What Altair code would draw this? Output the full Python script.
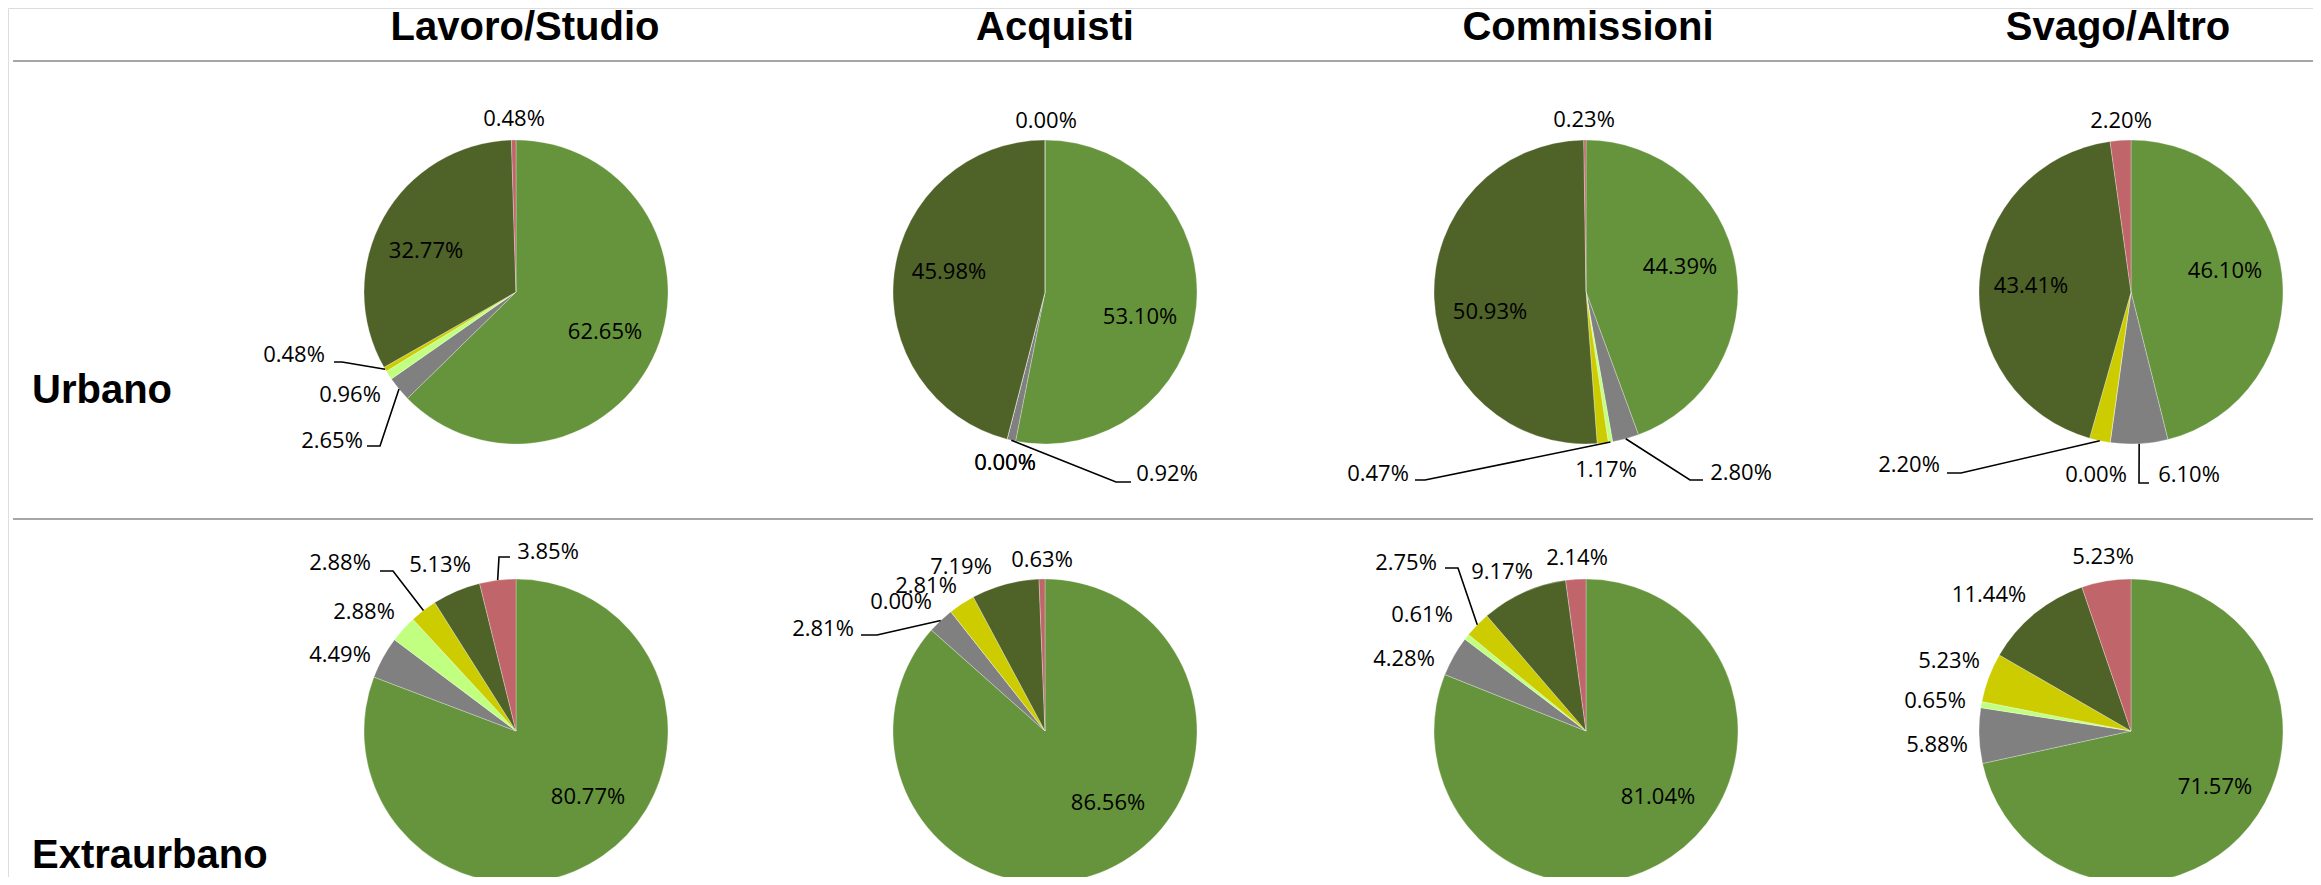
import math
import altair as alt
import pandas as pd

# ---------------- data ----------------
purposes = ["Lavoro/Studio", "Acquisti", "Commissioni", "Svago/Altro"]
zones = ["Urbano", "Extraurbano"]
modes = ["Serie 1", "Serie 2", "Serie 3", "Serie 4", "Serie 5", "Serie 6"]

urbano = [
    [62.65, 2.65, 0.96, 0.48, 32.77, 0.48],
    [53.10, 0.92, 0.00, 0.00, 45.98, 0.00],
    [44.39, 2.80, 0.47, 1.17, 50.93, 0.23],
    [46.10, 6.10, 0.00, 2.20, 43.41, 2.20],
]
extraurbano = [
    [80.77, 4.49, 2.88, 2.88, 5.13, 3.85],
    [86.56, 2.81, 0.00, 2.81, 7.19, 0.63],
    [81.04, 4.28, 0.61, 2.75, 9.17, 2.14],
    [71.57, 5.88, 0.65, 5.23, 11.44, 5.23],
]
values = {"Urbano": urbano, "Extraurbano": extraurbano}

# ---------------- layout / style ----------------
colors = ["#66943C", "#808080", "#C0FF80", "#CCCC00", "#4F6228", "#C0666A"]
W, H, M = 2321, 885, 8
col_x = [516, 1045, 1586, 2131]
row_y = {"Urbano": 292, "Extraurbano": 731}
R = 152
title_x = [525, 1055, 1588, 2118]
title_base = 40
row_label_x = 32
row_label_base = {"Urbano": 403, "Extraurbano": 868}
sep_y = [61, 519]
sep_x = (13, 2313)

label_pos = {
    "Urbano": [
        [(605, 332), (332, 441), (350, 395), (294, 355), (426, 251), (514, 119)],
        [(1140, 317), (1167, 474), (1005, 463), (1005, 463), (949, 272), (1046, 121)],
        [(1680, 267), (1741, 473), (1378, 474), (1606, 470), (1490, 312), (1584, 120)],
        [(2225, 271), (2189, 475), (2096, 475), (1909, 465), (2031, 286), (2121, 121)],
    ],
    "Extraurbano": [
        [(588, 797), (340, 655), (364, 612), (340, 563), (440, 565), (548, 552)],
        [(1108, 803), (823, 629), (901, 602), (926, 586), (961, 567), (1042, 560)],
        [(1658, 797), (1404, 659), (1422, 615), (1406, 563), (1502, 572), (1577, 558)],
        [(2215, 787), (1937, 745), (1935, 701), (1949, 661), (1989, 595), (2103, 557)],
    ],
}
# leader lines: (zone, purpose index, slice index, label-end point, elbow point)
leaders = [
    ("Urbano", 0, 3, (334, 362), (342, 362)),
    ("Urbano", 0, 1, (367, 446), (380, 446)),
    ("Urbano", 1, 1, (1131, 482), (1116, 482)),
    ("Urbano", 2, 2, (1415, 480), (1425, 480)),
    ("Urbano", 2, 1, (1703, 480), (1690, 480)),
    ("Urbano", 3, 3, (1947, 473), (1961, 473)),
    ("Urbano", 3, 1, (2149, 483), (2139, 483)),
    ("Extraurbano", 0, 3, (380, 571), (393, 571)),
    ("Extraurbano", 0, 5, (510, 557), (499, 557)),
    ("Extraurbano", 1, 1, (861, 635), (877, 635)),
    ("Extraurbano", 2, 3, (1445, 568), (1458, 568)),
]

# ---------------- tables ----------------
slice_rows, label_rows = [], []
for z in zones:
    for p, purpose in enumerate(purposes):
        for k, v in enumerate(values[z][p]):
            slice_rows.append(dict(pie=f"{z}|{purpose}", k=k, mode=modes[k], value=v,
                                   cx=col_x[p], cy=row_y[z]))
            lx, ly = label_pos[z][p][k]
            label_rows.append(dict(text=f"{v:.2f}%", lx=lx, ly=ly))
df_slices = pd.DataFrame(slice_rows)
df_labels = pd.DataFrame(label_rows)

lead_rows = []
for i, (z, p, k, a, b) in enumerate(leaders):
    vals = values[z][p]
    tot = sum(vals)
    start = sum(vals[:k]) / tot
    end = start + vals[k] / tot
    mid = (start + end) / 2 * 2 * math.pi
    ex = col_x[p] + R * math.sin(mid)
    ey = row_y[z] - R * math.cos(mid)
    for j, (px, py) in enumerate([a, b, (ex, ey)]):
        lead_rows.append(dict(id=i, o=j, px=px, py=py))
df_lead = pd.DataFrame(lead_rows)

df_titles = pd.DataFrame(dict(t=purposes, tx=title_x, ty=[title_base] * 4))
df_rows = pd.DataFrame(dict(t=zones, tx=[row_label_x] * 2, ty=[row_label_base[z] for z in zones]))
df_sep = pd.DataFrame(dict(y=sep_y, x1=[sep_x[0]] * 2, x2=[sep_x[1]] * 2))

xs = alt.Scale(domain=[M, W - M], nice=False, zero=False)
ys = alt.Scale(domain=[M, H - M], nice=False, zero=False, reverse=True)

pies = (
    alt.Chart(df_slices)
    .transform_joinaggregate(tot="sum(value)", groupby=["pie"])
    .transform_window(cum="sum(value)", groupby=["pie"], sort=[alt.SortField("k")], frame=[None, 0])
    .transform_calculate(f1="datum.cum / datum.tot", f0="(datum.cum - datum.value) / datum.tot")
    .mark_arc(radius=R, stroke="#ffffff", strokeWidth=0.4, strokeOpacity=0.7)
    .encode(
        x=alt.X("cx:Q", scale=xs, axis=None),
        y=alt.Y("cy:Q", scale=ys, axis=None),
        theta=alt.Theta("f0:Q", stack=None, scale=alt.Scale(domain=[0, 1], range=[0, 2 * math.pi])),
        theta2="f1:Q",
        color=alt.Color("mode:N", scale=alt.Scale(domain=modes, range=colors), legend=None),
        order=alt.Order("k:Q"),
    )
)

labels = alt.Chart(df_labels).mark_text(
    font="Open Sans", fontSize=22, color="#000000", align="center", baseline="middle"
).encode(x=alt.X("lx:Q", scale=xs, axis=None), y=alt.Y("ly:Q", scale=ys, axis=None), text="text:N")

lead = alt.Chart(df_lead).mark_line(color="#000000", strokeWidth=1.6).encode(
    x=alt.X("px:Q", scale=xs, axis=None),
    y=alt.Y("py:Q", scale=ys, axis=None),
    detail="id:N",
    order="o:Q",
)

titles = alt.Chart(df_titles).mark_text(
    font="Liberation Sans", fontWeight="bold", fontSize=40, color="#000000",
    align="center", baseline="alphabetic"
).encode(x=alt.X("tx:Q", scale=xs, axis=None), y=alt.Y("ty:Q", scale=ys, axis=None), text="t:N")

row_labels = alt.Chart(df_rows).mark_text(
    font="Liberation Sans", fontWeight="bold", fontSize=40, color="#000000",
    align="left", baseline="alphabetic"
).encode(x=alt.X("tx:Q", scale=xs, axis=None), y=alt.Y("ty:Q", scale=ys, axis=None), text="t:N")

seps = alt.Chart(df_sep).mark_rule(color="#A6A6A6", strokeWidth=2).encode(
    x=alt.X("x1:Q", scale=xs, axis=None), x2="x2:Q", y=alt.Y("y:Q", scale=ys, axis=None)
)

chart = (
    alt.layer(seps, pies, lead, labels, titles, row_labels)
    .properties(width=W - 2 * M, height=H - 2 * M, autosize=alt.AutoSizeParams(type="none"), padding=0)
    .configure_view(stroke=None)
    .configure(background="#ffffff")
)

chart.save("out.html", embed_options={"renderer": "svg", "actions": False})
